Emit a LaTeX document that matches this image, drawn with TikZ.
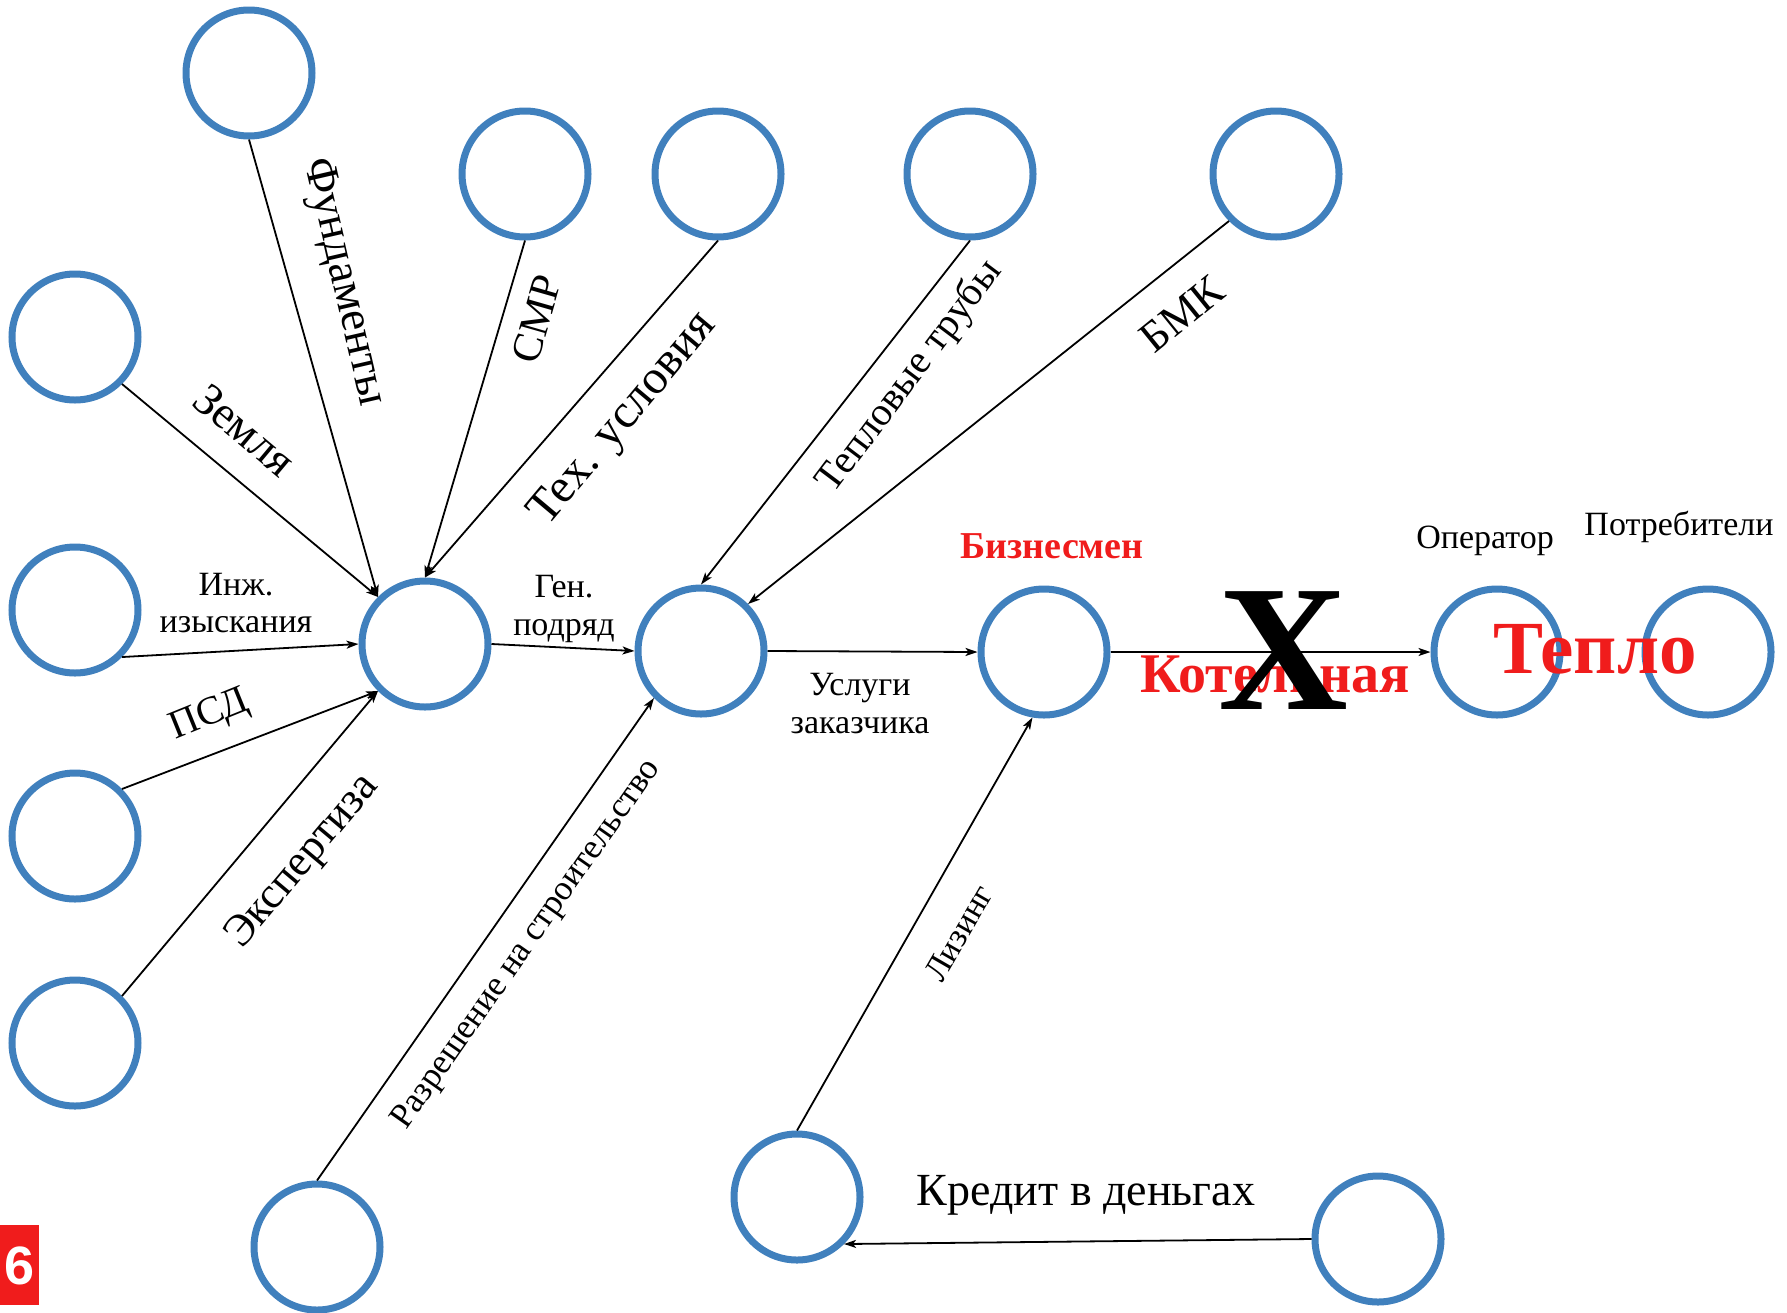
\documentclass[tikz,border=0pt]{standalone}
\usepackage{fontspec}
\setmainfont{Liberation Serif}
\newfontfamily\sansbold{Liberation Sans}
\usetikzlibrary{arrows.meta}
\definecolor{cblue}{RGB}{64,128,189}
\definecolor{cred}{RGB}{240,28,28}
\newcommand\fsz[1]{\fontsize{#1}{#1}\selectfont}
\begin{document}
\begin{tikzpicture}[x=0.5pt,y=-0.5pt,
  ring/.style={circle,draw=cblue,line width=3.5pt,minimum size=63pt,inner sep=0pt},
  conn/.style={-{Stealth[length=6pt,width=4pt,inset=1.5pt]},line width=0.9pt},
  lbl/.style={inner sep=0pt},
  redbold/.style={inner sep=0pt,text=cred,font=\bfseries},
]
\useasboundingbox (0,0) rectangle (1787,1312);
% circles
\node[ring] (n1) at (249,73) {};
\node[ring] (n2) at (525,174) {};
\node[ring] (n3) at (718,174) {};
\node[ring] (n4) at (970,174) {};
\node[ring] (n5) at (1276,174) {};
\node[ring] (n6) at (75,337) {};
\node[ring] (n7) at (75,610) {};
\node[ring] (n8) at (75,836) {};
\node[ring] (n9) at (75,1043) {};
\node[ring] (h1) at (425,644) {};
\node[ring] (h2) at (701,651) {};
\node[ring] (biz) at (1044,652) {};
\node[ring] (op) at (1497,652) {};
\node[ring] (cons) at (1708,652) {};
\node[ring] (perm) at (317,1247) {};
\node[ring] (lease) at (797,1197) {};
\node[ring] (cred) at (1378,1239) {};
% connectors
\draw[conn] (n1.south) -- (h1.135);
\draw[conn] (n6.-45) -- (h1.135);
\draw[conn] (n2.south) -- (h1.north);
\draw[conn] (n3.south) -- (h1.north);
\draw[conn] (n7.-45) -- (h1.west);
\draw[conn] (n8.45) -- (h1.225);
\draw[conn] (n9.45) -- (h1.225);
\draw[conn] (h1.east) -- (h2.west);
\draw[conn] (n4.south) -- (h2.north);
\draw[conn] (n5.225) -- (h2.45);
\draw[conn] (perm.north) -- (h2.225);
\draw[conn] (h2.east) -- (biz.west);
\draw[conn] (biz.east) -- (op.west);
\draw[conn] (lease.north) -- (biz.260);
\draw[conn] (cred.west) -- (lease.-45);
% labels
\node[lbl,rotate=-77] (tf) at (343,282) {\fsz{23}Фундаменты};
\node[lbl,rotate=-40] (tz) at (245,430) {\fsz{23}Земля};
\node[lbl,rotate=74] (ts) at (537,319) {\fsz{21}СМР};
\node[lbl,rotate=50] (tt) at (624,420) {\fsz{24}Тех. условия};
\node[lbl,anchor=base] (ti1) at (236,595) {\fsz{17}Инж.};
\node[lbl,anchor=base] (ti2) at (236,632) {\fsz{17}изыскания};
\node[lbl,anchor=base] (tg1) at (564,597) {\fsz{17}Ген.};
\node[lbl,anchor=base] (tg2) at (564,635) {\fsz{17}подряд};
\node[lbl,rotate=22] (tp) at (210,716) {\fsz{20}ПСД};
\node[lbl,rotate=50] (te) at (303,862) {\fsz{22}Экспертиза};
\node[lbl,rotate=55] (tr) at (527,945) {\fsz{17.5}Разрешение на строительство};
\node[lbl,rotate=53] (tw) at (910,377) {\fsz{20}Тепловые трубы};
\node[lbl,rotate=39] (tb) at (1182,314) {\fsz{22}БМК};
\node[lbl,rotate=60] (tl) at (959,933) {\fsz{17}Лизинг};
\node[lbl,anchor=base] (tu1) at (860,695) {\fsz{17}Услуги};
\node[lbl,anchor=base] (tu2) at (860,733) {\fsz{17}заказчика};
\node[redbold,anchor=base] (tbz) at (1052,558) {\fsz{19}Бизнесмен};
\node[lbl,anchor=base] (top) at (1485,548) {\fsz{17}Оператор};
\node[lbl,anchor=base] (tc) at (1679,535) {\fsz{17}Потребители};
\node[lbl,anchor=base] (tk) at (1086,1205) {\fsz{23}Кредит в деньгах};
\node[redbold,anchor=base] (tkot) at (1275,692) {\fsz{28}Котельная};
\node[lbl,anchor=base,font=\bfseries] (tx) at (1283,709) {\fsz{90}X};
\node[redbold,anchor=base] (tt2) at (1595,673) {\fsz{37.5}Тепло};
% page number box
\node[fill=cred,minimum width=19.5pt,minimum height=40pt,inner sep=0pt,anchor=north west] (pg) at (0,1225) {};
\node[text=white,inner sep=0pt] (pgn) at (pg.center) {\sansbold\bfseries\fsz{27}6};
\end{tikzpicture}
\end{document}
